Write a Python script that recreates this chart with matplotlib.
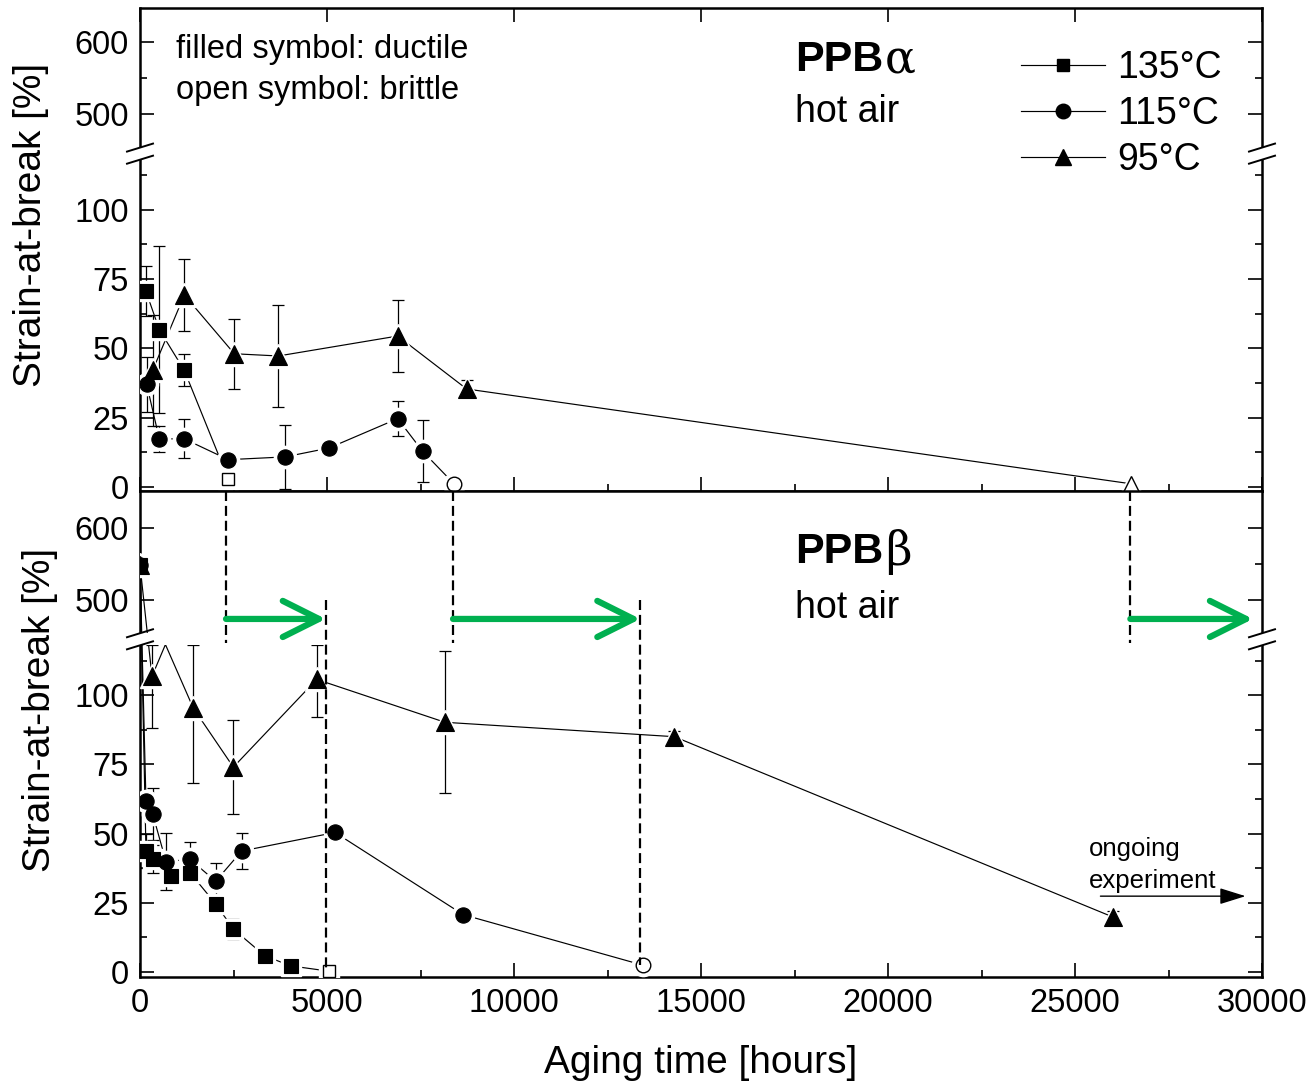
import numpy as np
import matplotlib
matplotlib.use('Agg')
import matplotlib.pyplot as plt
from matplotlib.lines import Line2D
from matplotlib.patches import Rectangle
import matplotlib.transforms as mtrans

plt.rcParams['font.family'] = ['Liberation Sans', 'DejaVu Sans']

# ---------------- data: PPB alpha (top) ----------------
a135_t = [160, 516, 1185, 2361]
a135_v = [70.5, 56.7, 42.0, 2.8]
a135_e = [9.0, 30.0, 5.8, 0.0]
a135_open = [False, False, False, True]

a115_t = [178, 516, 1185, 2361, 3877, 5053, 6890, 7558, 8396]
a115_v = [37.0, 17.3, 17.3, 9.8, 10.8, 14.0, 24.6, 12.8, 1.1]
a115_e = [10.0, 4.7, 7.0, 0.0, 11.4, 1.5, 6.4, 11.2, 0.0]
a115_open = [False] * 8 + [True]

a95_t = [339, 1185, 2522, 3699, 6890, 8734, 26497]
a95_v = [42.0, 69.2, 48.0, 47.2, 54.4, 35.3, 1.1]
a95_e = [20.0, 13.0, 12.6, 18.4, 12.9, 3.3, 0.0]
a95_open = [False] * 6 + [True]

# ---------------- data: PPB beta (bottom) ----------------
b135_t = [0, 160, 356, 820, 1337, 2023, 2496, 3342, 4037, 5053]
b135_v = [548, 43.7, 40.7, 34.7, 35.9, 24.6, 15.5, 5.8, 2.2, 0.3]
b135_e = [0, 6.0, 5.0, 3.0, 2.0, 1.5, 3.5, 1.0, 0.8, 0.0]
b135_open = [False] * 9 + [True]

b115_t = [0, 160, 339, 695, 1337, 2023, 2718, 5214, 8645, 13440]
b115_v = [548, 61.6, 57.1, 39.9, 40.7, 32.8, 43.7, 50.4, 20.7, 2.5]
b115_e = [0, 0.0, 9.3, 10.3, 6.3, 6.7, 6.4, 1.5, 3.0, 0.0]
b115_open = [False] * 9 + [True]

# third point lies inside the axis-break gap (hidden, as in the original)
b95_t = [0, 320, 680, 1426, 2496, 4724, 8155, 14286, 26006]
b95_v = [548, 106.8, 140.0, 95.3, 74.0, 105.7, 90.2, 85.0, 19.9]
b95_e = [0, 18.5, 0.0, 27.0, 17.0, 13.6, 25.6, 2.0, 2.0]
b95_open = [False] * 9

# brittle-failure times (dashed markers) and arrow ends
alpha_fail = [2300, 8370, 26480]
beta_fail = [4970, 13380, 29760]

xticks = [0, 5000, 10000, 15000, 20000, 25000, 30000]
yticks_major = [0, 25, 50, 75, 100, 500, 600]
yticks_minor = [12.5, 37.5, 62.5, 87.5, 112.5, 550]

# ---------------- broken-axis scale ----------------
L, U = 118.0, 453.0
S_LO, S_HI, G = 2.75, 0.71, 12.0


def fwd(y):
    y = np.asarray(y, float)
    p1 = L * S_LO
    return np.where(y <= L, y * S_LO,
                    np.where(y >= U, p1 + G + (y - U) * S_HI,
                             p1 + (y - L) / (U - L) * G))


def inv(p):
    p = np.asarray(p, float)
    p1 = L * S_LO
    p2 = p1 + G
    return np.where(p <= p1, p / S_LO,
                    np.where(p >= p2, U + (p - p2) / S_HI,
                             L + (p - p1) / G * (U - L)))


W, H = 1310, 1085
fig = plt.figure(figsize=(W / 100, H / 100), dpi=100)


def fr(x0, y0, x1, y1):
    return [x0 / W, 1 - y1 / H, (x1 - x0) / W, (y1 - y0) / H]


ax1 = fig.add_axes(fr(140, 8, 1262, 491))
ax2 = fig.add_axes(fr(140, 491, 1262, 977))

FS_TICK = 23.5
markers = {'135': ('s', 9.5), '115': ('o', 11), '95': ('^', 12.5)}


def series(ax, t, v, e, op, key):
    m, ms = markers[key]
    t = np.asarray(t, float)
    v = np.asarray(v, float)
    e = np.asarray(e, float)
    op = np.asarray(op)
    ax.plot(t, v, '-', color='black', lw=0.85, zorder=2)
    sel = e > 0
    if sel.any():
        ax.errorbar(t[sel], v[sel], yerr=e[sel], fmt='none', ecolor='black',
                    elinewidth=0.9, capsize=4.3, capthick=0.9, zorder=2)
    vis = (v <= L) | (v >= U)          # points inside the break are hidden
    ax.plot(t[vis], v[vis], ls='none', marker=m, ms=ms + 5, mfc='white',
            mec='white', zorder=3)
    f = ~op & vis
    ax.plot(t[f], v[f], ls='none', marker=m, ms=ms, mfc='black', mec='black',
            mew=0.8, zorder=3.5)
    o = op & vis
    if o.any():
        ax.plot(t[o], v[o], ls='none', marker=m, ms=ms - 0.5, mfc='white',
                mec='black', mew=1.0, zorder=3.5)


for ax, ylim in ((ax1, (-1.5, 648)), (ax2, (-1.8, 652))):
    ax.set_yscale('function', functions=(fwd, inv))
    ax.set_ylim(*ylim)
    ax.set_xlim(0, 30000)
    ax.set_yticks(yticks_major)
    ax.set_yticks(yticks_minor, minor=True)
    ax.set_yticklabels([str(v) for v in yticks_major])
    ax.set_xticks(xticks)
    ax.set_xticks(np.arange(2500, 30000, 5000), minor=True)
    ax.tick_params(which='both', direction='in', width=1.2, right=True,
                   labelsize=FS_TICK, pad=8)
    ax.tick_params(which='major', length=10)
    ax.tick_params(which='minor', length=5)
    for s in ax.spines.values():
        s.set_linewidth(1.8)
    # white gap band of the axis break
    trans = mtrans.blended_transform_factory(ax.transAxes, ax.transData)
    ax.add_patch(Rectangle((-0.006, L), 1.012, U - L, transform=trans,
                           facecolor='white', edgecolor='none', zorder=4,
                           clip_on=False))
    # break marks on both spines
    y0, y1 = ax.get_ylim()
    pl, ph = fwd(L), fwd(U)
    p0, p1 = fwd(y0), fwd(y1)
    fl = (pl - p0) / (p1 - p0)
    fh = (ph - p0) / (p1 - p0)
    hpx = ax.get_position().height * H
    dy = 4.0 / hpx
    dx = 13.0 / 1122
    for xs in (0.0, 1.0):
        for fy in (fl, fh):
            ax.plot([xs - dx, xs + dx], [fy - dy, fy + dy], color='black',
                    lw=1.4, transform=ax.transAxes, clip_on=False, zorder=6)

ax1.tick_params(labelbottom=False, top=True)
ax2.tick_params(top=False)

series(ax1, a135_t, a135_v, a135_e, a135_open, '135')
series(ax1, a115_t, a115_v, a115_e, a115_open, '115')
series(ax1, a95_t, a95_v, a95_e, a95_open, '95')
series(ax2, b135_t, b135_v, b135_e, b135_open, '135')
series(ax2, b115_t, b115_v, b115_e, b115_open, '115')
series(ax2, b95_t, b95_v, b95_e, b95_open, '95')

# dashed guide lines and green arrows (bottom panel)
btr = mtrans.blended_transform_factory(ax2.transData, ax2.transAxes)
dash = dict(color='black', lw=1.6, ls=(0, (4.5, 2.2)), transform=btr,
            clip_on=False, zorder=7)
for xa in alpha_fail:
    ax2.plot([xa, xa], [1.0, 0.687], **dash)
for xb, yb in zip(beta_fail[:2], [0.0103, 0.0247]):
    ax2.plot([xb, xb], [0.776, yb], **dash)
ARROW_Y = 473
for xa, xb in zip(alpha_fail, beta_fail):
    ax2.annotate('', xy=(xb, ARROW_Y), xytext=(xa, ARROW_Y),
                 arrowprops=dict(arrowstyle='->,head_length=1.3,head_width=0.65',
                                 color='#00B050', lw=4.5, capstyle='round',
                                 joinstyle='round', shrinkA=0, shrinkB=0,
                                 mutation_scale=20),
                 zorder=8)

# ongoing experiment arrow
ax2.annotate('', xy=(29560, 27.4), xytext=(25680, 27.4),
             arrowprops=dict(arrowstyle='-|>,head_length=0.8,head_width=0.25',
                             color='black', lw=1.0, shrinkA=0, shrinkB=0,
                             mutation_scale=20), zorder=8)
ax2.text(0.846, 0.263, 'ongoing', transform=ax2.transAxes, fontsize=18.5,
         va='center', ha='left')
ax2.text(0.846, 0.198, 'experiment', transform=ax2.transAxes, fontsize=18.5,
         va='center', ha='left')

# annotations
ax1.text(0.032, 0.915, 'filled symbol: ductile', transform=ax1.transAxes,
         fontsize=23.5, va='center', ha='left')
ax1.text(0.032, 0.830, 'open symbol: brittle', transform=ax1.transAxes,
         fontsize=23.5, va='center', ha='left')
for ax, yt, yh, g in ((ax1, 0.892, 0.785, 'α'), (ax2, 0.874, 0.760, 'β')):
    t = ax.text(0.584, yt, 'PPB', transform=ax.transAxes, fontsize=31,
                fontweight='bold', va='center', ha='left')
    ax.annotate(g, xy=(1, 0.5), xycoords=t, xytext=(1, 0),
                textcoords='offset points', fontsize=33, va='center',
                ha='left', family=['DejaVu Serif'])
    ax.text(0.584, yh, 'hot air', transform=ax.transAxes, fontsize=27,
            va='center', ha='left')

# legend
handles = [Line2D([], [], color='black', lw=0.85, marker=markers[k][0],
                  ms=markers[k][1] * 0.95, mfc='black', mec='black')
           for k in ('135', '115', '95')]
ax1.legend(handles, ['135°C', '115°C', '95°C'], loc='upper left',
           bbox_to_anchor=(0.785, 0.913), frameon=False, fontsize=27,
           handlelength=2.25, handletextpad=0.32, labelspacing=0.27,
           borderpad=0, borderaxespad=0)

fig.text(31 / W, 1 - 225 / H, 'Strain-at-break [%]', rotation=90,
         fontsize=28, ha='center', va='center')
fig.text(40 / W, 1 - 710 / H, 'Strain-at-break [%]', rotation=90,
         fontsize=28, ha='center', va='center')
fig.text(701 / W, 1 - 1063 / H, 'Aging time [hours]', fontsize=28,
         ha='center', va='center')

fig.savefig('out.png', dpi=100)
